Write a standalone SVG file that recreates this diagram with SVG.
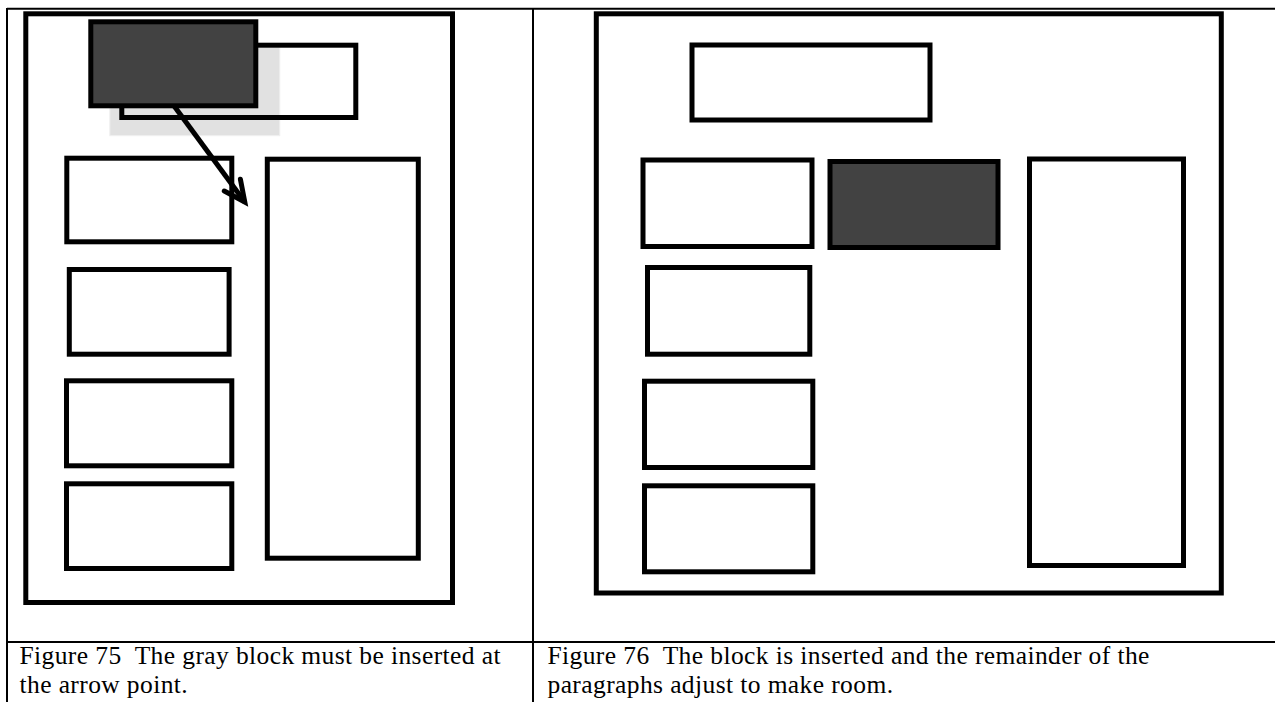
<svg xmlns="http://www.w3.org/2000/svg" width="1275" height="702" viewBox="0 0 1275 702">
  <style>
    .tbl { stroke: #000; stroke-width: 2; fill: none; }
    .frame { fill: none; stroke: #000; stroke-width: 5; }
    .box { fill: #fff; stroke: #000; stroke-width: 5; }
    .boxo { fill: none; stroke: #000; stroke-width: 5; }
    .dark { fill: #424242; stroke: #000; stroke-width: 5; }
    .ghost { fill: #e1e1e1; stroke: #f0f0f0; stroke-width: 1; }
    .cap { font-family: "Liberation Serif", "Times New Roman", serif; font-size: 25.5px; letter-spacing: 0.4px; fill: #000; white-space: pre; }
    .arrow { fill: none; stroke: #000; stroke-width: 5; }
  </style>
  <defs>
    <marker id="openhead" markerUnits="userSpaceOnUse" orient="auto" refX="0" refY="0" markerWidth="40" markerHeight="40" viewBox="-30 -20 40 40" overflow="visible">
      <path d="M -21 -10 L 0 0 L -21 10" fill="none" stroke="#000" stroke-width="5" stroke-linecap="round" stroke-linejoin="miter"/>
    </marker>
  </defs>
  <rect width="1275" height="702" fill="#fff"/>

  <!-- table -->
  <g id="table">
    <line class="tbl" x1="7" y1="8.8" x2="1275" y2="8.8"/>
    <line class="tbl" x1="7" y1="8" x2="7" y2="702"/>
    <line class="tbl" x1="533" y1="8" x2="533" y2="702"/>
    <line class="tbl" x1="7" y1="642" x2="1275" y2="642"/>
  </g>

  <!-- left figure -->
  <g id="left-frame"><rect class="frame" x="25.8" y="13.8" width="426.7" height="588.7"/></g>
  <g id="left-ghost"><rect class="ghost" x="109.8" y="47.2" width="170" height="88.5"/></g>
  <g id="left-top"><rect class="boxo" x="121.8" y="45.2" width="234" height="72.3"/></g>
  <g id="left-p1"><rect class="box" x="66.8" y="158.2" width="165" height="83.6"/></g>
  <g id="left-p2"><rect class="box" x="69.3" y="269.5" width="159.8" height="84.7"/></g>
  <g id="left-p3"><rect class="box" x="66.5" y="380.8" width="165.3" height="85"/></g>
  <g id="left-p4"><rect class="box" x="66.5" y="483.8" width="165.3" height="84.7"/></g>
  <g id="left-tall"><rect class="box" x="267.3" y="159.2" width="151" height="399"/></g>

  <g id="connectors">
    <line class="arrow" x1="166" y1="95" x2="244.8" y2="202" marker-end="url(#openhead)"/>
  </g>

  <g id="left-gray"><rect class="dark" x="90.8" y="21.8" width="165" height="84"/></g>

  <!-- right figure -->
  <g id="right-frame"><rect class="frame" x="596.3" y="13.8" width="625" height="579.2"/></g>
  <g id="right-top"><rect class="box" x="692" y="45" width="238" height="75"/></g>
  <g id="right-p1"><rect class="box" x="643" y="160" width="169" height="86.5"/></g>
  <g id="right-gray"><rect class="dark" x="830" y="161.5" width="168" height="86"/></g>
  <g id="right-p2"><rect class="box" x="647.5" y="267.5" width="162.3" height="86.7"/></g>
  <g id="right-p3"><rect class="box" x="644.5" y="381.2" width="168.3" height="86.3"/></g>
  <g id="right-p4"><rect class="box" x="644.5" y="485.8" width="168.3" height="86"/></g>
  <g id="right-tall"><rect class="box" x="1029.5" y="159" width="154" height="406.5"/></g>

  <!-- captions -->
  <text class="cap" xml:space="preserve" x="19.5" y="664">Figure 75  The gray block must be inserted at</text>
  <text class="cap" x="19.5" y="692.5">the arrow point.</text>
  <text class="cap" xml:space="preserve" x="547.5" y="664">Figure 76  The block is inserted and the remainder of the</text>
  <text class="cap" x="547.5" y="692.5">paragraphs adjust to make room.</text>
</svg>
